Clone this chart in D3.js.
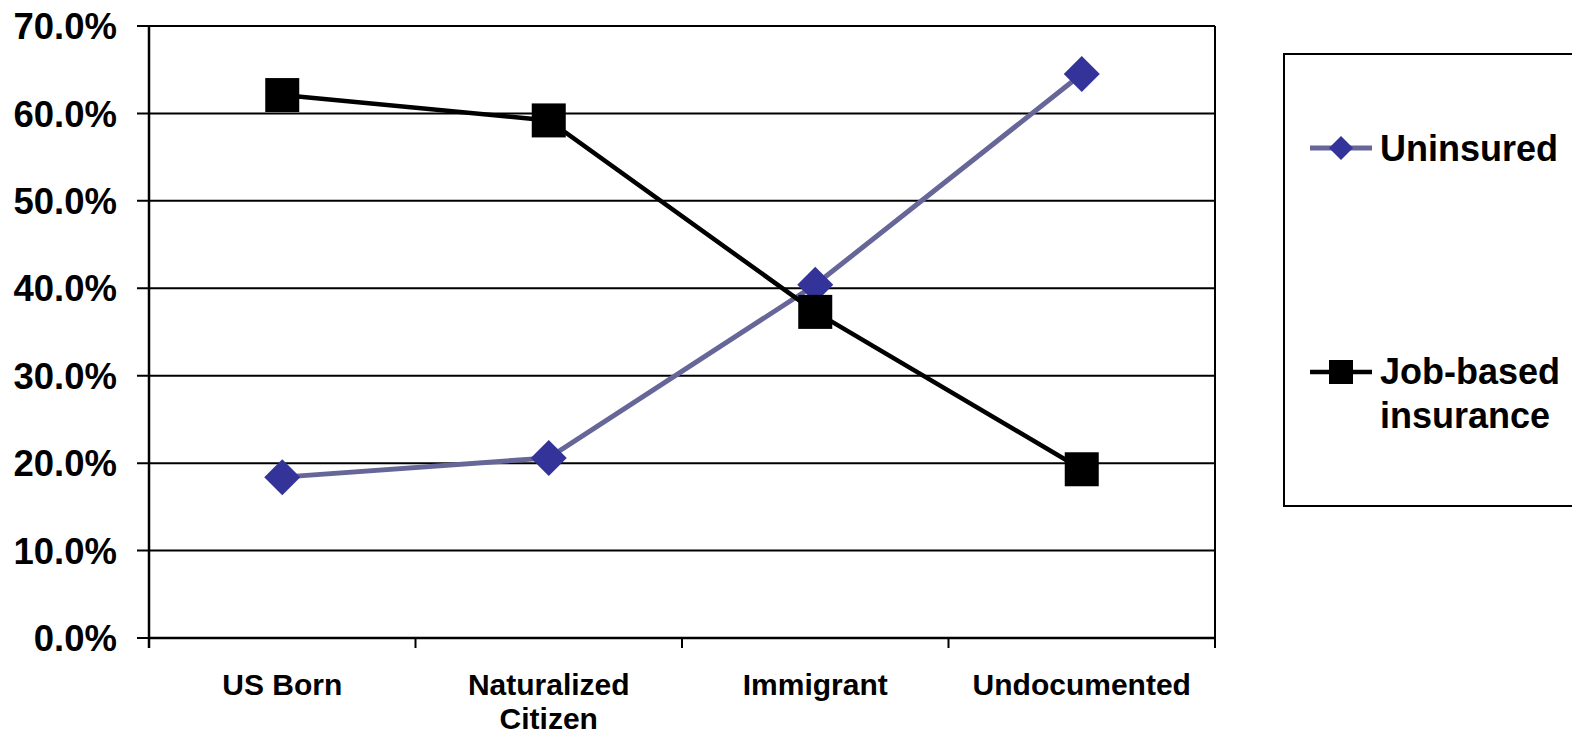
<!DOCTYPE html>
<html>
<head>
<meta charset="utf-8">
<script src="https://cdn.jsdelivr.net/npm/d3@7"></script>
<style>
  html, body { margin: 0; padding: 0; background: #fff; }
  svg { display: block; }
  text { font-family: "Liberation Sans", Arial, sans-serif; font-weight: bold; fill: #000; }
</style>
</head>
<body>
<svg id="chart" width="1572" height="735"></svg>
<script>
// Coverage by nativity / immigration status (share of people)
const categories = [["US Born"], ["Naturalized", "Citizen"], ["Immigrant"], ["Undocumented"]];
const uninsured = [18.4, 20.6, 40.4, 64.5];
const jobBased = [62.1, 59.2, 37.3, 19.3];
const yTicks = [0, 10, 20, 30, 40, 50, 60, 70];
const seriesNames = ["Uninsured", ["Job-based", "insurance"]];

const svg = d3.select("#chart");
const plot = { left: 149, right: 1215, top: 26, bottom: 638 };
const keys = categories.map(c => c.join(" "));

const x = d3.scaleBand().domain(keys).range([plot.left, plot.right]);
const cx = k => x(k) + x.bandwidth() / 2;
const y = d3.scaleLinear().domain([0, 70]).range([plot.bottom, plot.top]);

// horizontal gridlines
svg.append("g").selectAll("line").data(yTicks).join("line")
  .attr("x1", plot.left - 12).attr("x2", plot.right)
  .attr("y1", d => y(d)).attr("y2", d => y(d))
  .attr("stroke", "#000").attr("stroke-width", 2);

// y axis line and right frame
svg.append("line").attr("x1", plot.left).attr("x2", plot.left)
  .attr("y1", plot.top).attr("y2", plot.bottom + 10)
  .attr("stroke", "#000").attr("stroke-width", 2.5);
svg.append("line").attr("x1", plot.right).attr("x2", plot.right)
  .attr("y1", plot.top).attr("y2", plot.bottom + 10)
  .attr("stroke", "#000").attr("stroke-width", 2);

// x axis baseline and category ticks
svg.append("line").attr("x1", plot.left).attr("x2", plot.right)
  .attr("y1", plot.bottom).attr("y2", plot.bottom)
  .attr("stroke", "#000").attr("stroke-width", 2.5);
const bounds = keys.map(k => x(k)).concat([plot.right]);
svg.append("g").selectAll("line").data(bounds).join("line")
  .attr("x1", d => d).attr("x2", d => d)
  .attr("y1", plot.bottom).attr("y2", plot.bottom + 10)
  .attr("stroke", "#000").attr("stroke-width", 2);

// y tick labels
svg.append("g").selectAll("text").data(yTicks).join("text")
  .attr("x", 117).attr("y", d => y(d))
  .attr("dy", "0.36em")
  .attr("text-anchor", "end")
  .style("font-size", "36.5px")
  .text(d => d.toFixed(1) + "%");

// x category labels
const xl = svg.append("g").selectAll("text").data(categories).join("text")
  .attr("text-anchor", "middle")
  .attr("x", (d, i) => cx(keys[i]))
  .attr("y", 695)
  .style("font-size", "30px");
xl.selectAll("tspan").data(d => d).join("tspan")
  .attr("x", function () { return d3.select(this.parentNode).attr("x"); })
  .attr("dy", (d, i) => i === 0 ? 0 : 34)
  .text(d => d);

// lines
const line = d3.line().x((d, i) => cx(keys[i])).y(d => y(d));
svg.append("path").datum(uninsured).attr("d", line)
  .attr("fill", "none").attr("stroke", "#666699").attr("stroke-width", 5);
svg.append("path").datum(jobBased).attr("d", line)
  .attr("fill", "none").attr("stroke", "#000").attr("stroke-width", 4.5);

// markers
const diamond = (px, py, r) => `M${px},${py - r}L${px + r},${py}L${px},${py + r}L${px - r},${py}Z`;
svg.append("g").selectAll("path").data(uninsured).join("path")
  .attr("d", (d, i) => diamond(cx(keys[i]), y(d), 18))
  .attr("fill", "#333399");
svg.append("g").selectAll("rect").data(jobBased).join("rect")
  .attr("x", (d, i) => cx(keys[i]) - 17).attr("y", d => y(d) - 17)
  .attr("width", 34).attr("height", 34)
  .attr("fill", "#000");

// legend
const lg = svg.append("g");
lg.append("rect").attr("x", 1284).attr("y", 54).attr("width", 300).attr("height", 452)
  .attr("fill", "#fff").attr("stroke", "#000").attr("stroke-width", 2);
lg.append("line").attr("x1", 1310).attr("x2", 1372).attr("y1", 148).attr("y2", 148)
  .attr("stroke", "#666699").attr("stroke-width", 5);
lg.append("path").attr("d", diamond(1341, 148, 12)).attr("fill", "#333399");
lg.append("text").attr("x", 1380).attr("y", 148).attr("dy", "0.36em")
  .style("font-size", "36px").text(seriesNames[0]);
lg.append("line").attr("x1", 1310).attr("x2", 1372).attr("y1", 372).attr("y2", 372)
  .attr("stroke", "#000").attr("stroke-width", 4.5);
lg.append("rect").attr("x", 1329).attr("y", 360).attr("width", 24).attr("height", 24).attr("fill", "#000");
const lt = lg.append("text").attr("x", 1380).attr("y", 384).style("font-size", "36px");
lt.selectAll("tspan").data(seriesNames[1]).join("tspan")
  .attr("x", 1380).attr("dy", (d, i) => i === 0 ? 0 : 44).text(d => d);
</script>
</body>
</html>
